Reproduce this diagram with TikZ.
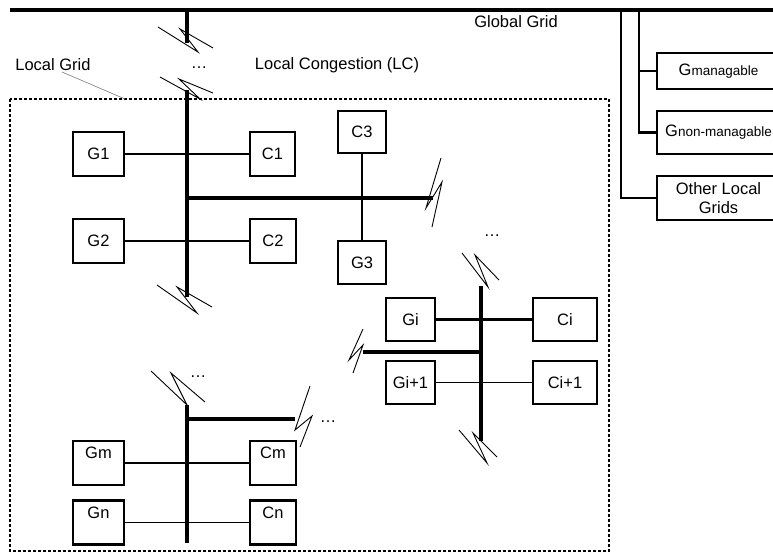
\documentclass[tikz,border=0pt]{standalone}
\usepackage{fontspec}
\setmainfont{Liberation Sans}

\begin{document}
\begin{tikzpicture}[
x=1pt, y=-1pt,
every node/.style={font=\fontsize{16.5}{19}\selectfont},
bus/.style={line width=4.2pt},
feeder/.style={line width=2.8pt},
wire/.style={line width=2.2pt},
thinwire/.style={line width=1.6pt},
breakline/.style={line width=0.9pt},
box/.style={draw, line width=2.2pt, inner sep=0pt, minimum height=44},
topbox/.style={draw, line width=2.2pt, inner xsep=0pt, inner ysep=3.5pt,
  text height=14pt, text depth=23pt, minimum height=0pt},
dots/.style={inner sep=1pt}
]

    \useasboundingbox (0,0) rectangle (773,552);

    % Global grid
    \draw[bus, line width=4.8pt] (10,10) -- (790,10);
    \node (global) at (516,22) {Global Grid};

    % Local grid frame
    \draw[line width=1.5pt, dash pattern=on 3pt off 2pt] (10,99) rectangle (609,551);
    \node (localgrid) at (53,65) {Local Grid};
    \coordinate (lgtip) at (125,99);
    \draw[gray, line width=0.6pt] (62,72) -- (lgtip);
    \node (lc) at (337,65) {Local Congestion (LC)};

    % Boxes
    \node[box, minimum width=51] (G1) at (98.5,154) {G1};
    \node[box, minimum width=45] (C1) at (272.5,154) {C1};
    \node[box, minimum width=51] (G2) at (98.5,241) {G2};
    \node[box, minimum width=46] (C2) at (273,241) {C2};
    \node[box, minimum width=48, minimum height=42] (C3) at (362,132) {C3};
    \node[box, minimum width=48, minimum height=43] (G3) at (362,262.5) {G3};

    \node[box, minimum width=49, minimum height=43] (Gi) at (410.5,319.5) {Gi};
    \node[box, minimum width=64, minimum height=43] (Ci) at (565,319.5) {Ci};
    \node[box, minimum width=49, minimum height=43] (Gi1) at (410.5,382.5) {Gi+1};
    \node[box, minimum width=64, minimum height=43] (Ci1) at (565,382.5) {Ci+1};

    \node[topbox, minimum width=51] (Gm) at (98.5,463) {Gm};
    \node[topbox, minimum width=46] (Cm) at (273,463) {Cm};
    \node[topbox, minimum width=51] (Gn) at (98.5,522.5) {Gn};
    \node[topbox, minimum width=46] (Cn) at (273,522.5) {Cn};

    \node[box, minimum width=123, minimum height=36] (Gman) at (718.5,71)
    {G\fontsize{13.5}{15}\selectfont managable};
    \node[box, minimum width=123, minimum height=43] (Gnon) at (718.5,132.5)
    {G\fontsize{13.5}{15}\selectfont non-managable};
    \node[box, minimum width=123, minimum height=44, align=center] (other) at (718.5,198)
    {Other Local\\Grids};

    % Connections
    \draw[wire] (G1) -- (C1);
    \draw[wire] (G2) -- (C2);
    \draw[wire] (C3) -- (G3);
    \draw[wire] (Gi) -- (Ci);
    \draw[thinwire] (Gi1) -- (Ci1);
    \draw[wire] (Gm) -- (Cm);
    \draw[thinwire] (Gn) -- (Cn);

    % Main local bus
    \coordinate (m0) at (187,10);
    \coordinate (m1) at (187,43);
    \coordinate (m2) at (187,90);
    \coordinate (m3) at (187,297);
    \coordinate (b1) at (187,198);
    \coordinate (b1e) at (433,198);
    \draw[bus] (m0) -- (m1);
    \draw[bus] (m2) -- (m3);
    \draw[bus] (b1) -- (b1e);
    \node[dots] (dotsA) at (199,68) {…};

    % Bus i
    \coordinate (i0) at (481,286);
    \coordinate (i1) at (481,441);
    \coordinate (bi) at (481,352);
    \coordinate (bie) at (363,352);
    \draw[bus] (i0) -- (i1);
    \draw[bus] (bi) -- (bie);
    \node[dots] (dotsB) at (492,236) {…};

    % Bus m
    \coordinate (n0) at (187,405);
    \coordinate (n1) at (187,543);
    \coordinate (bm) at (187,419);
    \coordinate (bme) at (295,419);
    \draw[bus] (n0) -- (n1);
    \draw[bus] (bm) -- (bme);
    \node[dots] (dotsC) at (198,377) {…};
    \node[dots] (dotsD) at (328,422) {…};

    % Feeders to the right
    \draw[feeder] (621,10) |- (other.west);
    \draw[feeder] (639,10) |- (Gnon.west);
    \draw[feeder] (639,71) -- (Gman.west);

    % Breaks
    \draw[breakline] (158,27) -- (198,52) -- (180,29) -- (213,48);
    \draw[breakline] (160,77) -- (200,99) -- (179,79) -- (213,93);
    \draw[breakline] (157,285) -- (197,313) -- (177,287) -- (212,307);
    \draw[breakline] (441,158) -- (426,208) -- (442,182) -- (432,227);
    \draw[breakline] (462,253) -- (488,287) -- (475,255) -- (499,280);
    \draw[breakline] (459,430) -- (487,463) -- (473,433) -- (497,457);
    \draw[breakline] (363,329) -- (349,360) -- (363,345) -- (353,373);
    \draw[breakline] (151,371) -- (187,405) -- (171,373) -- (205,402);
    \draw[breakline] (310,386) -- (295,430) -- (312,416) -- (300,447);

\end{tikzpicture}
\end{document}
